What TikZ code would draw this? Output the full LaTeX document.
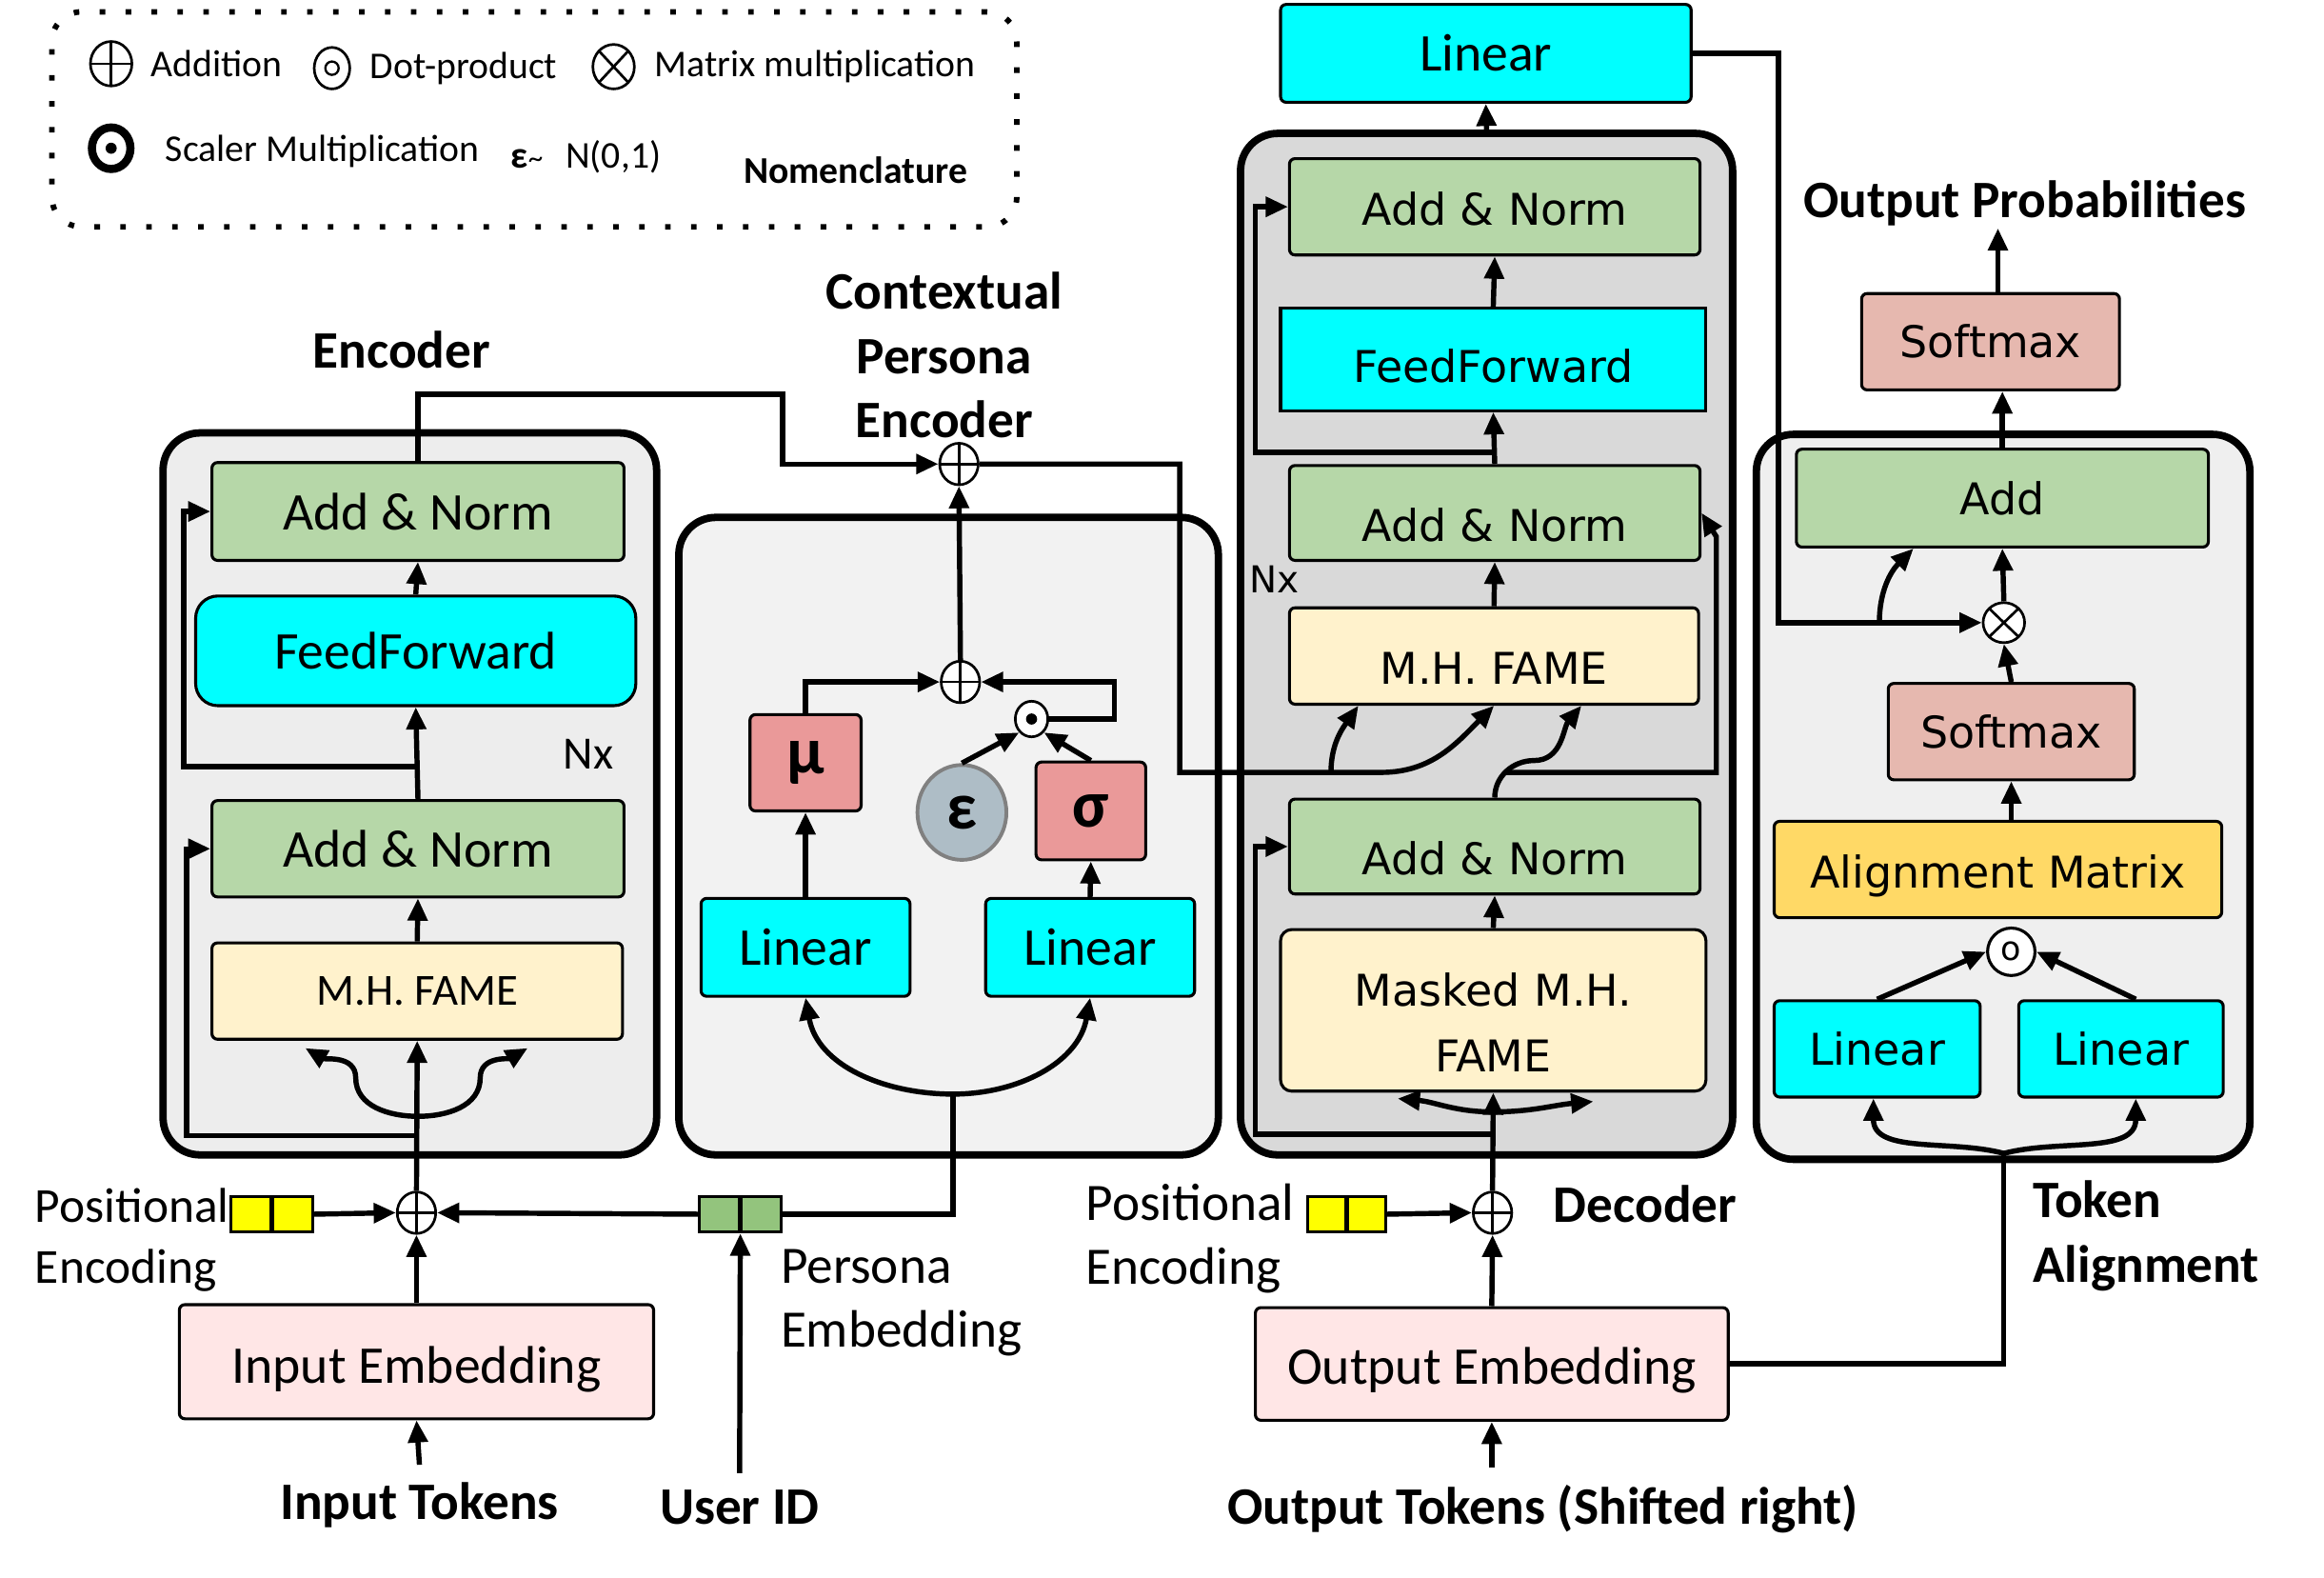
\documentclass[tikz,border=0pt]{standalone}
\usepackage{fontspec}
\setmainfont{Carlito}
\newfontfamily\verd{DejaVu Sans}
\usetikzlibrary{shapes.geometric, positioning, arrows.meta}
\definecolor{anGreen}{HTML}{B6D7A8}
\definecolor{ffCyan}{HTML}{00FFFF}
\definecolor{fameYel}{HTML}{FFF2CC}
\definecolor{gSalmon}{HTML}{EA9999}
\definecolor{smPink}{HTML}{E6B8AF}
\definecolor{alGold}{HTML}{FFD966}
\definecolor{embPink}{HTML}{FFE6E6}
\definecolor{peYellow}{HTML}{FFFF00}
\definecolor{peGreen}{HTML}{93C47D}
\definecolor{epsGray}{HTML}{AEBDC6}
\definecolor{encGray}{HTML}{EDEDED}
\definecolor{cpeGray}{HTML}{F2F2F2}
\definecolor{decGray}{HTML}{D9D9D9}
\definecolor{taGray}{HTML}{EFEFEF}
\tikzset{px/.style 2 args={minimum width=0.4pt*#1,minimum height=0.4pt*#2},
         blk/.style={draw,line width=0.8pt,rounded corners=1.5pt,inner sep=0pt,align=center,font=\fontsize{14.3}{17}\selectfont},
         vf/.style={font=\verd\fontsize{11.8}{17.6}\selectfont},
         low/.style={text height=#1},
         stack/.style={draw,line width=2pt,rounded corners=10pt},
         nombox/.style={draw,line width=1.5pt,rounded corners=8pt,dash pattern=on 1.5pt off 5.5pt},
         sumop/.style={draw,ellipse,inner sep=0pt,fill=white,line width=0.7pt,px={26}{28},
                       path picture={\draw[line width=0.7pt](path picture bounding box.north)--(path picture bounding box.south)
                                     (path picture bounding box.west)--(path picture bounding box.east);}},
         mulop/.style={draw,ellipse,inner sep=0pt,fill=white,line width=0.7pt,px={28}{27},
                       path picture={\draw[line width=0.7pt](path picture bounding box.north west)--(path picture bounding box.south east)
                                     (path picture bounding box.north east)--(path picture bounding box.south west);}},
         dotop/.style={draw,ellipse,inner sep=0pt,fill=white,line width=0.7pt,px={22}{24},
                       path picture={\fill[black](path picture bounding box.center)circle(1.5pt);}},
         hdotop/.style={draw,ellipse,inner sep=0pt,fill=white,line width=0.7pt,px={24}{28},
                       path picture={\draw[black,line width=0.6pt](path picture bounding box.center)circle(1.8pt);}},
         gauss/.style={blk,fill=gSalmon,font=\bfseries\fontsize{18}{20}\selectfont},
         txt/.style={align=left,inner sep=0pt,font=\fontsize{14.2}{17.2}\selectfont},
         tag/.style={align=center,inner sep=0pt,font=\bfseries\fontsize{14.2}{17.4}\selectfont},
         nomtxt/.style={anchor=west,inner sep=0pt,font=\fontsize{10.2}{12}\selectfont},
        }

\begin{document}
\begin{tikzpicture}[x=0.4pt,y=-0.4pt,line width=1.4pt,>={Triangle[length=6pt,width=5.2pt]}]
        \useasboundingbox(0,0)rectangle(1568,1064);
        \node[stack,fill=encGray,px={333}{487}](enc)at(276.5,535.5){};
        \node[stack,fill=cpeGray,px={364}{430}](cpe)at(640,564){};
        \node[stack,fill=decGray,px={332}{689}](dec)at(1003,434.5){};
        \node[stack,fill=taGray,px={333}{489}](ta)at(1351.5,537.5){};

        \node[nombox,px={651}{145}](nom)at(360.5,80.5){};
        \node[sumop,px={28}{30}](kAdd)at(75,43){};
        \node[nomtxt](kAddT)at(100,43){Addition};
        \node[hdotop](kDot)at(224,46){};
        \node[nomtxt](kDotT)at(248,46){Dot-product};
        \node[mulop,px={28}{30}](kMul)at(414,45){};
        \node[nomtxt](kMulT)at(440,45){Matrix multiplication};
        \node[dotop,line width=2.2pt,px={26}{28}](kSc)at(75,100){};
        \node[nomtxt](kScT)at(110,102){Scaler Multiplication};
        \node[nomtxt](kEps)at(343,107){{\bfseries ε}{\fontsize{8}{8}\selectfont\textasciitilde}};
        \node[nomtxt](kN)at(380,106){N(0,1)};
        \node[nomtxt,font=\bfseries\fontsize{10.2}{12}\selectfont](kNom)at(500,115){Nomenclature};

        \node[tag](encT)at(271,236){Encoder};
        \node[blk,fill=anGreen,px={278}{66}](encAN2)at(282,345){Add \& Norm};
        \node[blk,fill=ffCyan,px={297}{74},rounded corners=6pt](encFF)at(280.5,439){FeedForward};
        \node[blk,fill=anGreen,px={278}{65}](encAN1)at(282,572.5){Add \& Norm};
        \node[blk,fill=fameYel,px={277}{65},font=\fontsize{12}{14}\selectfont](encMH)at(281.5,668.5){M.H. FAME};
        \node[txt,font=\fontsize{12.5}{14}\selectfont](nxE)at(397,509){Nx};
        \node[sumop](encSum)at(281,818){};
        \node[blk,fill=peYellow,px={55}{24},rounded corners=0pt](peE)at(183.5,819){};
        \node[txt,anchor=west,font=\fontsize{13.2}{16.4}\selectfont](posE)at(22,836.5){Positional\\Encoding};
        \node[blk,fill=embPink,px={320}{77},low=14pt](inEmb)at(281,918.5){Input Embedding};
        \node[tag,inner sep=4pt](inTok)at(283,1015){Input Tokens};
        \coordinate(encFork)at(282,753);
        \coordinate(encRes1)at(282,766);
        \coordinate(encRes2)at(282,517);

        \draw(peE.north)--(peE.south);
        \draw[->](inTok.north)--(inEmb.south);
        \draw[->](inEmb.north)--(encSum.south);
        \draw[->](peE.east)--(encSum.west);
        \draw[->](encSum.north)--(encMH.south);
        \draw[->](encFork)to[out=180,in=270](240,727)to[out=90,in=-30](206,707);
        \draw[->](encFork)to[out=0,in=270](324,727)to[out=90,in=210](356,707);
        \draw[->](encRes1)-|([xshift=-6.4pt]encAN1.west)--(encAN1.west);
        \draw[->](encMH.north)--(encAN1.south);
        \draw[->](encAN1.north)--(encFF.south);
        \draw[->](encRes2)-|([xshift=-7.2pt]encAN2.west)--(encAN2.west);
        \draw[->](encFF.north)--(encAN2.south);

        \node[tag](cpeT)at(637,239.5){Contextual\\Persona\\Encoder};
        \node[sumop](cpeSum)at(647,313){};
        \node[sumop](cpeIn)at(648,460){};
        \node[dotop](cpeDot)at(696,485){};
        \node[gauss,px={75}{65}](mu)at(543.5,514.5){μ};
        \node[gauss,px={74}{66}](sigma)at(736,547){σ};
        \node[draw=gray,ellipse,fill=epsGray,line width=1pt,inner sep=0pt,px={60}{64},font=\bfseries\fontsize{18}{20}\selectfont](eps)at(649,548){ε};
        \node[blk,fill=ffCyan,px={141}{66}](linL)at(543.5,639){Linear};
        \node[blk,fill=ffCyan,px={141}{66}](linR)at(735.5,639){Linear};
        \node[blk,fill=peGreen,px={55}{24},rounded corners=0pt](persE)at(499.5,819){};
        \node[txt,anchor=west,font=\fontsize{14.2}{17.2}\selectfont](persT)at(525,878.5){Persona\\Embedding};
        \node[tag,inner sep=4pt](userID)at(499,1017){User ID};
        \coordinate(cpeFork)at(643,738);

        \draw(persE.north)--(persE.south);
        \draw[->](userID.north)--(persE.south);
        \draw[->](persE.west)--(encSum.east);
        \draw(persE.east)-|(cpeFork);
        \draw[->](cpeFork)to[out=180,in=-80](linL.south);
        \draw[->](cpeFork)to[out=0,in=-100](linR.south);
        \draw[->](linL.north)--(mu.south);
        \draw[->](linR.north)--(sigma.south);
        \draw[->](mu.north)|-(cpeIn.west);
        \draw[->](cpeDot.east)-|([xshift=36pt]cpeIn.east)--(cpeIn.east);
        \draw[->](eps.north)--(cpeDot.south west);
        \draw[->](sigma.north)--(cpeDot.south east);
        \draw[->](cpeIn.north)--(cpeSum.south);
        \draw[->](encAN2.north)|-(528,266)|-(cpeSum.west);

        \node[blk,fill=ffCyan,px={277}{66}](decLin)at(1002.5,36){Linear};
        \node[blk,vf,fill=anGreen,px={277}{65},low=10pt](decAN3)at(1008.5,139.5){Add \& Norm};
        \node[blk,vf,fill=ffCyan,px={287}{69},rounded corners=0pt,low=12.6pt](decFF)at(1007.5,242.5){FeedForward};
        \node[blk,vf,fill=anGreen,px={277}{64},low=15.4pt](decAN2)at(1008.5,346){Add \& Norm};
        \node[blk,vf,fill=fameYel,px={276}{65},low=15.4pt](decMH)at(1008,442.5){M.H. FAME};
        \node[blk,vf,fill=anGreen,px={277}{64},low=15.4pt](decAN1)at(1008.5,571){Add \& Norm};
        \node[blk,vf,fill=fameYel,px={287}{109},rounded corners=3pt,low=33pt](decMask)at(1007.5,681.5){Masked M.H.\\FAME};
        \node[txt,font=\verd\fontsize{10}{12}\selectfont](nxD)at(860,391){Nx};
        \node[sumop](decSum)at(1007,818){};
        \node[blk,fill=peYellow,px={53}{24},rounded corners=0pt](peD)at(908.5,819){};
        \node[txt,anchor=west](posD)at(731,835.5){Positional\\Encoding};
        \node[tag](decT)at(1110,812){Decoder};
        \node[blk,fill=embPink,px={319}{76},low=13.4pt](outEmb)at(1006.5,920){Output Embedding};
        \node[tag,inner sep=4pt](outTok)at(1041,1018){Output Tokens (Shifted right)};
        \coordinate(kvA)at(898,521);
        \coordinate(kvB)at(932,521);
        \coordinate(decRes2)at(1016,521);
        \coordinate(decFork)at(1007,750);
        \coordinate(decRes1)at(1007,765);
        \coordinate(decRes3)at(1008.5,305);

        \draw(peD.north)--(peD.south);
        \draw[->](outEmb.south|-outTok.north)--(outEmb.south);
        \draw[->](outEmb.north)--(decSum.south);
        \draw[->](peD.east)--(decSum.west);
        \draw[->](decSum.north)--(decMask.south);
        \draw[->](decFork)to[out=180,in=-5](943,741);
        \draw[->](decFork)to[out=0,in=185](1075,743);
        \draw[->](decRes1)-|([xshift=-8.8pt]decAN1.west)--(decAN1.west);
        \draw[->](decMask.north)--(decAN1.south);
        \draw[->](cpeSum.east)-|(796,521)--(kvB)to[out=0,in=225](decMH.south);
        \draw[->](kvA)to[out=90,in=235]([xshift=19pt]decMH.south west);
        \draw[->](decAN1.north)to[out=90,in=180](1035,513)to[out=0,in=230]([xshift=-32pt]decMH.south east);
        \draw[->](decRes2)-|(1158,362)--(decAN2.east);
        \draw[->](decMH.north)--(decAN2.south);
        \draw[->](decAN2.north)--(decFF.south);
        \draw[->](decRes3)-|([xshift=-8.8pt]decAN3.west)--(decAN3.west);
        \draw[->](decFF.north)--(decAN3.south);
        \draw[->](dec.north)--(decLin.south);

        \node[tag](probT)at(1366,137){Output Probabilities};
        \node[blk,vf,fill=smPink,px={174}{65}](smTop)at(1343,230.5){Softmax};
        \node[blk,vf,fill=anGreen,px={278}{66}](addTA)at(1351,336){Add};
        \node[mulop](taMul)at(1352,420){};
        \node[blk,vf,fill=smPink,px={166}{65}](smIn)at(1357,493.5){Softmax};
        \node[blk,vf,fill=alGold,px={302}{65},low=12.2pt](alMat)at(1348,586.5){Alignment Matrix};
        \node[draw,ellipse,fill=white,line width=0.8pt,inner sep=0pt,px={32}{32},font=\verd\fontsize{9}{9}\selectfont](taCirc)at(1357,642){o};
        \node[blk,vf,fill=ffCyan,px={139}{65}](taLinL)at(1266.5,707.5){Linear};
        \node[blk,vf,fill=ffCyan,px={138}{65}](taLinR)at(1431,707.5){Linear};
        \node[tag,anchor=west,align=left](taT)at(1370,833.5){Token\\Alignment};
        \coordinate(taBus)at(1200,420);
        \coordinate(taBr)at(1268,420);
        \coordinate(taFork)at(1352,778);

        \draw[->](decLin.east)-|(taBus)--(taMul.west);
        \draw[->](taBr)to[out=90,in=225]([xshift=-24pt]addTA.south);
        \draw[->](taMul.north)--(addTA.south);
        \draw[->](addTA.north)--(addTA.north|-smTop.south);
        \draw[->]([xshift=2pt]smTop.north)--([xshift=2pt]smTop.north|-probT.south);
        \draw[->](smIn.north)--(taMul.south);
        \draw[->](smIn.south|-alMat.north)--(smIn.south);
        \draw[->](taLinL.north)--(taCirc.west);
        \draw[->]([xshift=4pt]taLinR.north)--(taCirc.east);
        \draw(outEmb.east)-|(taFork);
        \draw[->](taFork)to[out=165,in=-90]([xshift=-1pt]taLinL.south);
        \draw[->](taFork)to[out=15,in=-90]([xshift=4pt]taLinR.south);
    \end{tikzpicture}
\end{document}
